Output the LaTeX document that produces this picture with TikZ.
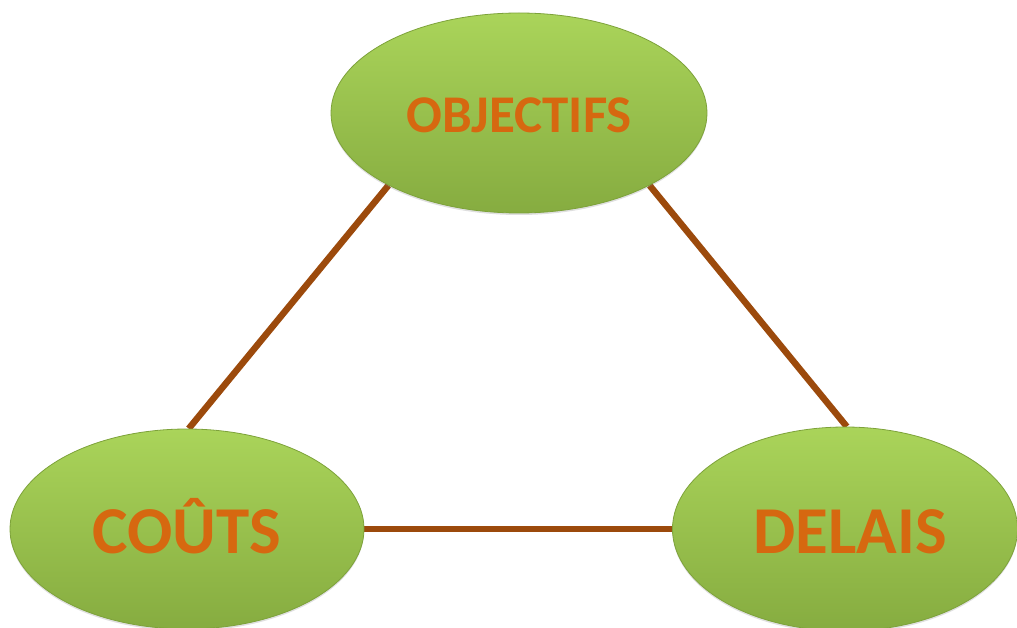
\documentclass[tikz,border=0pt]{standalone}
\usepackage{fontspec}
\setmainfont{Carlito}
\usetikzlibrary{shapes.geometric,shadows,backgrounds}
\definecolor{lineBrown}{HTML}{9C4A0C}
\definecolor{greenTop}{HTML}{AAD45A}
\definecolor{greenBot}{HTML}{86AC40}
\definecolor{greenEdge}{HTML}{7DA23A}
\definecolor{txtOrange}{HTML}{D66810}
\begin{document}
\begin{tikzpicture}[x=1pt,y=-1pt,
  bubble/.style={ellipse, inner sep=0pt, top color=greenTop, bottom color=greenBot,
    draw=greenEdge, line width=0.8pt, text=txtOrange, text depth=0pt,
    drop shadow={opacity=0.25, shadow xshift=0pt, shadow yshift=-2pt}},
  bigtext/.style={font=\fontsize{67}{70}\selectfont\bfseries, text height=48pt},
  smalltext/.style={font=\fontsize{53}{56}\selectfont\bfseries, text height=39pt},
  link/.style={draw=lineBrown, line width=6.5pt}]
\useasboundingbox (0,0) rectangle (1017,628);
\node[bubble, smalltext, minimum width=376pt, minimum height=200pt] (obj) at (519,113) {OBJECTIFS};
\node[bubble, bigtext, minimum width=354pt, minimum height=200pt] (cout) at (187,529) {COÛTS};
\node[bubble, bigtext, minimum width=345pt, minimum height=204pt] (del) at (845,529) {\hspace*{10pt}DELAIS};
\begin{pgfonlayer}{background}
\draw[link] (obj.209) -- (cout.89);
\draw[link] (obj.331) -- (del.89);
\draw[link] (cout.east) -- (del.west);
\end{pgfonlayer}
\end{tikzpicture}
\end{document}
